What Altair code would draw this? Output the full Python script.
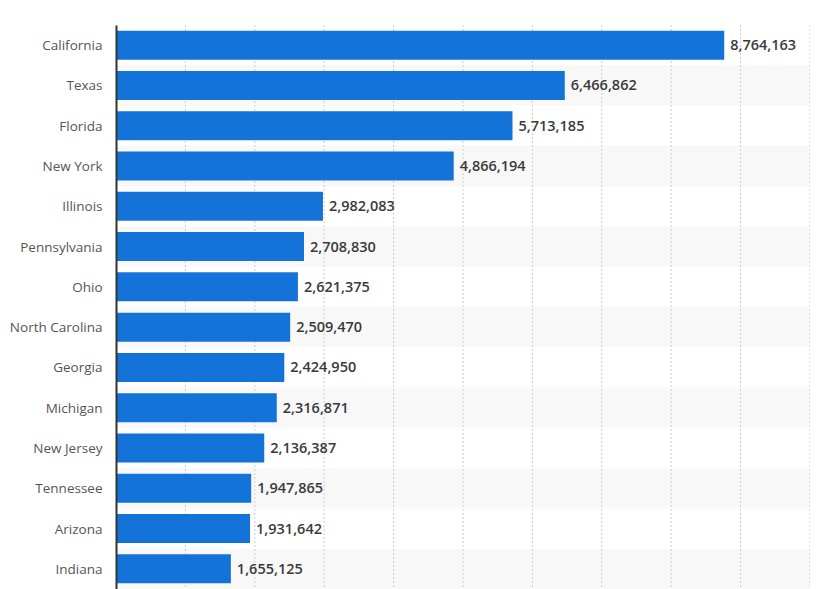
import altair as alt
import pandas as pd

states = ["California", "Texas", "Florida", "New York", "Illinois", "Pennsylvania",
          "Ohio", "North Carolina", "Georgia", "Michigan", "New Jersey",
          "Tennessee", "Arizona", "Indiana"]
values = [8764163, 6466862, 5713185, 4866194, 2982083, 2708830, 2621375,
          2509470, 2424950, 2316871, 2136387, 1947865, 1931642, 1655125]
grid_ticks = [1000000 * i for i in range(1, 11)]

df = pd.DataFrame({"state": states, "value": values})
bg = pd.DataFrame({"state": [s for i, s in enumerate(states) if i % 2 == 1],
                   "x0": 0, "x1": 10000000})
grid = pd.DataFrame({"g": grid_ticks})

FONT = "Open Sans"
xscale = alt.Scale(domain=[0, 10000000], nice=False, zero=True)
yscale = alt.Scale(domain=states, paddingInner=0, paddingOuter=0)

background = alt.Chart(bg).mark_rect(color="#f8f8f8").encode(
    y=alt.Y("state:N", scale=yscale, sort=states,
            axis=alt.Axis(title=None, ticks=False, labelFontSize=13.5, labelColor="#555555",
                          labelFont=FONT, labelPadding=14, labelOffset=1,
                          domainColor="#333333", domainWidth=2, grid=False)),
    x=alt.X("x0:Q", scale=xscale, axis=None),
    x2="x1:Q",
)

rules = alt.Chart(grid).mark_rule(color="#cccccc", strokeDash=[2, 2], strokeWidth=1).encode(
    x=alt.X("g:Q", scale=xscale, axis=None)
)

bars = alt.Chart(df).mark_bar(color="#1473d8", height=29).encode(
    y=alt.Y("state:N", scale=yscale, sort=states),
    x=alt.X("value:Q", scale=xscale, axis=None),
)

labels = alt.Chart(df).mark_text(align="left", baseline="middle", dx=6, dy=1, fontSize=14.5,
                                 fontWeight=600, color="#3a3a3a", font=FONT).encode(
    y=alt.Y("state:N", scale=yscale, sort=states),
    x=alt.X("value:Q", scale=xscale, axis=None),
    text=alt.Text("value:Q", format=",d"),
)

chart = alt.layer(background, rules, bars, labels).properties(
    width=694, height=564,
    autosize=alt.AutoSizeParams(type="none"),
    padding={"left": 108, "top": 17, "right": 0, "bottom": 0},
).configure_view(stroke=None)

chart.save("out.html", embed_options={"renderer": "svg", "actions": False})
